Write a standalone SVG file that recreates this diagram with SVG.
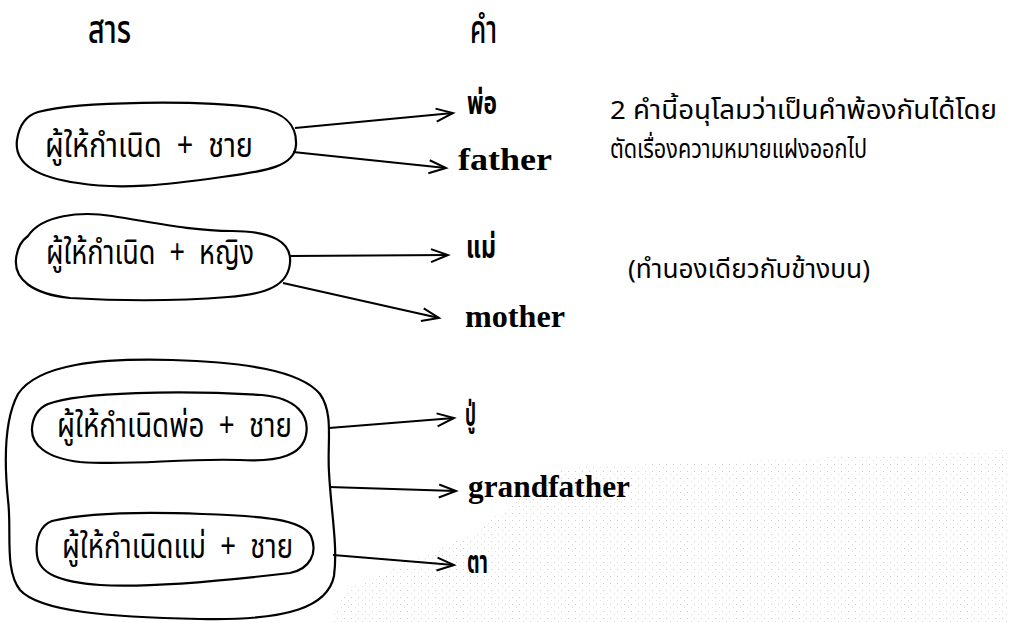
<svg xmlns="http://www.w3.org/2000/svg" width="1009" height="623" viewBox="0 0 1009 623">
<defs>
<style>
.blob{fill:none;stroke:#000;stroke-width:2.2;stroke-linejoin:round}
.con{fill:none;stroke:#000;stroke-width:2}
.th{font-family:"Noto Sans Thai","Noto Sans","DejaVu Sans",sans-serif;fill:#000}
.hd{font-size:40px;font-weight:500}
.bt{font-size:34px;white-space:pre}
.nt{font-size:26px}
.en{font-family:"Liberation Serif","Times New Roman",serif;font-weight:bold;font-size:32px;fill:#000}
.thb{font-family:"Noto Sans Thai","Noto Sans","DejaVu Sans",sans-serif;font-weight:bold;font-size:32px;fill:#000}
</style>
<marker id="ah" markerUnits="userSpaceOnUse" markerWidth="30" markerHeight="20" viewBox="-18 -10 20 20" refX="0" refY="0" orient="auto">
<path d="M -17,-6 L 0,0 L -17,7" fill="none" stroke="#000" stroke-width="2"/>
</marker>
<pattern id="speck" patternUnits="userSpaceOnUse" width="7" height="7">
<rect x="1" y="2" width="1" height="1" fill="#aaa"/>
<rect x="5" y="5" width="1" height="1" fill="#ccc"/>
</pattern>
</defs>
<rect width="1009" height="623" fill="#fff"/>
<path d="M 560,468 L 1009,450 L 1009,623 L 330,623 L 345,590 L 470,535 Z" fill="url(#speck)" opacity="0.6"/>

<g id="headers">
<text class="th hd" x="88" y="43" textLength="43" lengthAdjust="spacingAndGlyphs">สาร</text>
<text class="th hd" x="470" y="43" textLength="27" lengthAdjust="spacingAndGlyphs">คำ</text>
</g>

<g id="node-father">
<path class="blob" d="M 38,112 C 80,101 200,100 258,108 C 287,113 297,126 296,145 C 295,166 268,171 222,177 C 165,185 120,190 78,183 C 35,177 14,163 17,140 C 19,126 25,116 38,112 Z"/>
<text class="th bt" x="45" y="157" textLength="208" lengthAdjust="spacingAndGlyphs" xml:space="preserve">ผู้ให้กำเนิด  +  ชาย</text>
</g>

<g id="node-mother">
<path class="blob" d="M 28,236 C 42,215 80,211 112,216 C 152,222 190,231 232,231 C 272,231 292,242 290,263 C 288,285 268,294 228,297 C 178,301 120,301 70,298 C 32,294 14,279 16,259 C 17,249 21,241 28,236 Z"/>
<text class="th bt" x="46" y="264" textLength="208" lengthAdjust="spacingAndGlyphs" xml:space="preserve">ผู้ให้กำเนิด  +  หญิง</text>
</g>

<g id="node-grand">
<path class="blob" d="M 18,394 C 38,364 100,358 172,360 C 242,362 300,370 320,394 C 334,414 327,442 329,472 C 331,512 338,546 334,576 C 328,606 290,621 200,619 C 110,617 40,612 20,590 C 4,570 12,530 8,500 C 4,460 4,420 18,394 Z"/>
</g>

<g id="node-paternal">
<path class="blob" d="M 48,404 C 80,392 180,390 262,395 C 296,398 310,415 306,435 C 302,455 280,462 240,460 C 180,458 130,466 80,462 C 45,458 31,444 32,428 C 33,416 39,408 48,404 Z"/>
<text class="th bt" x="57" y="437" textLength="235" lengthAdjust="spacingAndGlyphs" xml:space="preserve">ผู้ให้กำเนิดพ่อ  +  ชาย</text>
</g>

<g id="node-maternal">
<path class="blob" d="M 52,521 C 90,512 150,512 202,514 C 262,516 302,519 311,536 C 318,553 310,569 290,573 C 230,580 150,588 100,585 C 60,582 39,574 37,555 C 35,538 41,525 52,521 Z"/>
<text class="th bt" x="62" y="558" textLength="231" lengthAdjust="spacingAndGlyphs" xml:space="preserve">ผู้ให้กำเนิดแม่  +  ชาย</text>
</g>

<g id="connectors">
<path class="con" marker-end="url(#ah)" d="M 295,128 L 453,113"/>
<path class="con" marker-end="url(#ah)" d="M 293,152 L 446,168"/>
<path class="con" marker-end="url(#ah)" d="M 290,256 L 448,255"/>
<path class="con" marker-end="url(#ah)" d="M 283,283 L 439,318"/>
<path class="con" marker-end="url(#ah)" d="M 329,428 L 454,418"/>
<path class="con" marker-end="url(#ah)" d="M 329,487 L 456,491"/>
<path class="con" marker-end="url(#ah)" d="M 333,555 L 454,565"/>
</g>

<g id="labels">
<text class="thb" x="467" y="114" textLength="30" lengthAdjust="spacingAndGlyphs">พ่อ</text>
<text class="en" x="458" y="170" font-size="34" textLength="94" lengthAdjust="spacingAndGlyphs">father</text>
<text class="thb" x="466" y="258" textLength="30" lengthAdjust="spacingAndGlyphs">แม่</text>
<text class="en" x="465" y="327" textLength="100" lengthAdjust="spacingAndGlyphs">mother</text>
<text class="thb" x="465" y="426" textLength="11" lengthAdjust="spacingAndGlyphs">ปู่</text>
<text class="en" x="468" y="497" textLength="162" lengthAdjust="spacingAndGlyphs">grandfather</text>
<text class="thb" x="467" y="573" textLength="21" lengthAdjust="spacingAndGlyphs">ตา</text>
</g>

<g id="notes">
<text class="th nt" x="610" y="119" textLength="387" lengthAdjust="spacingAndGlyphs">2 คำนี้อนุโลมว่าเป็นคำพ้องกันได้โดย</text>
<text class="th nt" x="610" y="158" textLength="257" lengthAdjust="spacingAndGlyphs">ตัดเรื่องความหมายแฝงออกไป</text>
<text class="th nt" x="628" y="278" textLength="242" lengthAdjust="spacingAndGlyphs">(ทำนองเดียวกับข้างบน)</text>
</g>
</svg>
